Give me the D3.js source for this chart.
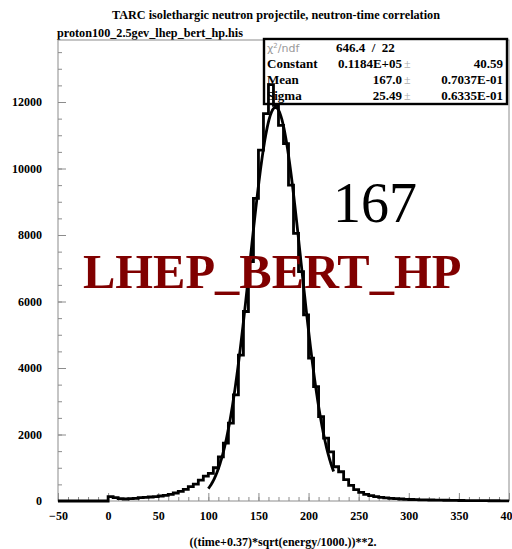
<!DOCTYPE html>
<html>
<head>
<meta charset="utf-8">
<script src="https://cdn.jsdelivr.net/npm/d3@7"></script>
<style>
  body { margin: 0; background: #fff; }
  svg { display: block; }
  text { font-family: "Liberation Serif", "Times New Roman", serif; }
  .lbl { font-weight: bold; font-size: 12px; }
  .axis path, .axis line { stroke: #8c8c8c; }
</style>
</head>
<body>
<div id="chart"></div>
<script>
// histogram: 5-unit bins from -50 to 400 (left edges)
var binStart = -50, binWidth = 5;
var counts = [
  0, 0, 0, 0, 0, 0, 0, 0, 0, 0,                 // -50 .. 0
  130, 100, 70, 60, 70, 80, 100, 110, 120, 130,   // 0 .. 50
  150, 170, 200, 240, 290, 350, 430, 510, 630, 750, // 50 .. 100
  830, 1000, 1330, 1740, 2340, 3190, 4390, 5700, 7200, 9100, // 100 .. 150
  10550, 11650, 12520, 11900, 11300, 10750, 9500, 8050, 6900, 5600, // 150 .. 200
  4300, 3440, 2540, 1890, 1480, 1030, 880, 640, 470, 340, // 200 .. 250
  260, 200, 160, 130, 110, 95, 80, 70, 60, 50,    // 250 .. 300
  45, 40, 35, 32, 30, 28, 25, 22, 20, 18,         // 300 .. 350
  15, 14, 12, 11, 10, 9, 8, 7, 6, 5               // 350 .. 400
];

// gaussian fit results (from the stats box)
var fitConstant = 11840, fitMean = 167.0, fitSigma = 25.49;
var fitRange = [100, 225];

var statLabels = ["Constant", "Mean", "Sigma"];
var statValues = ["0.1184E+05", "167.0", "25.49"];
var statErrors = ["40.59", "0.7037E-01", "0.6335E-01"];
var chi2 = "646.4", ndf = "22";

var xTicks = [-50, 0, 50, 100, 150, 200, 250, 300, 350, 400];
var yTicks = [0, 2000, 4000, 6000, 8000, 10000, 12000];

var W = 512, H = 549;
var svg = d3.select("#chart").append("svg")
    .attr("width", W).attr("height", H);

var x = d3.scaleLinear().domain([-50, 400]).range([58, 509]);
var y = d3.scaleLinear().domain([0, 13865]).range([501, 40]);

// title
svg.append("text")
    .attr("x", 276).attr("y", 19)
    .attr("text-anchor", "middle")
    .attr("class", "lbl").style("font-size", "12.2px")
    .text("TARC isolethargic neutron projectile, neutron-time correlation");

svg.append("text")
    .attr("x", 57).attr("y", 37)
    .attr("class", "lbl").style("font-size", "12.2px")
    .text("proton100_2.5gev_lhep_bert_hp.his");

// frame
svg.append("rect")
    .attr("x", x(-50)).attr("y", y.range()[1])
    .attr("width", x(400) - x(-50)).attr("height", y(0) - y.range()[1])
    .attr("fill", "none").attr("stroke", "#8c8c8c").attr("stroke-width", 1);

// y axis: major + minor ticks pointing inward
svg.append("g")
    .attr("class", "axis")
    .attr("transform", "translate(" + x(-50) + ",0)")
    .call(d3.axisLeft(y).tickValues(d3.range(0, 14000, 500)).tickSize(-4).tickFormat(""))
    .call(g => g.select(".domain").remove());
svg.append("g")
    .attr("class", "axis")
    .attr("transform", "translate(" + x(-50) + ",0)")
    .call(d3.axisLeft(y).tickValues(yTicks).tickSize(-8).tickPadding(16).tickFormat(d3.format("d")))
    .call(g => g.select(".domain").remove())
    .call(g => g.selectAll("text").attr("class", "lbl").style("font-size", "12px")
        .attr("fill", "#000").style("font-family", "Liberation Serif"));

// x axis
svg.append("g")
    .attr("class", "axis")
    .attr("transform", "translate(0," + y(0) + ")")
    .call(d3.axisBottom(x).tickValues(d3.range(-50, 401, 10)).tickSize(-4).tickFormat(""))
    .call(g => g.select(".domain").remove());
svg.append("g")
    .attr("class", "axis")
    .attr("transform", "translate(0," + y(0) + ")")
    .call(d3.axisBottom(x).tickValues(xTicks).tickSize(-8).tickPadding(10).tickFormat(d3.format("d")))
    .call(g => g.select(".domain").remove())
    .call(g => g.selectAll("text").attr("class", "lbl").style("font-size", "12px")
        .attr("fill", "#000").style("font-family", "Liberation Serif"));

svg.append("text")
    .attr("x", 283).attr("y", 546)
    .attr("text-anchor", "middle")
    .attr("class", "lbl").style("font-size", "12px")
    .text("((time+0.37)*sqrt(energy/1000.))**2.");

// stats box
var box = svg.append("g");
box.append("rect")
    .attr("x", 264).attr("y", 39).attr("width", 243).attr("height", 65)
    .attr("fill", "#fff").attr("stroke", "#000").attr("stroke-width", 2.4);
box.append("text")
    .attr("x", 267).attr("y", 52)
    .style("font-family", "DejaVu Sans").style("font-size", "11px").attr("fill", "#999")
    .html("&#967;<tspan dy='-4' font-size='7'>2</tspan><tspan dy='4'>/ndf</tspan>");
box.append("text")
    .attr("x", 336).attr("y", 52)
    .attr("class", "lbl").style("font-size", "13px").attr("xml:space", "preserve")
    .text(chi2 + "  /  " + ndf);
var rowY = [68, 84, 100];
statLabels.forEach(function(s, i) {
  box.append("text").attr("x", 267).attr("y", rowY[i])
      .attr("class", "lbl").style("font-size", "13px").text(s);
  box.append("text").attr("x", 402).attr("y", rowY[i]).attr("text-anchor", "end")
      .attr("class", "lbl").style("font-size", "13px").text(statValues[i]);
  box.append("text").attr("x", 404).attr("y", rowY[i])
      .style("font-size", "12px").attr("fill", "#aaa").text("\u00b1");
  box.append("text").attr("x", 503).attr("y", rowY[i]).attr("text-anchor", "end")
      .attr("class", "lbl").style("font-size", "13px").text(statErrors[i]);
});

// histogram as a step line
var pts = counts.map((c, i) => [binStart + i * binWidth, c]);
pts.push([binStart + counts.length * binWidth, counts[counts.length - 1]]);
svg.append("path")
    .datum(pts)
    .attr("fill", "none").attr("stroke", "#000").attr("stroke-width", 2.8)
    .attr("stroke-linejoin", "miter")
    .attr("d", d3.line().x(d => x(d[0])).y(d => y(d[1])).curve(d3.curveStepAfter));

// fitted gaussian
var fitPts = d3.range(fitRange[0], fitRange[1] + 0.01, 0.5).map(function(t) {
  return [t, fitConstant * Math.exp(-0.5 * Math.pow((t - fitMean) / fitSigma, 2))];
});
svg.append("path")
    .datum(fitPts)
    .attr("fill", "none").attr("stroke", "#000").attr("stroke-width", 2.8)
    .attr("d", d3.line().x(d => x(d[0])).y(d => y(d[1])));

// annotations
svg.append("text")
    .attr("x", 333).attr("y", 222)
    .style("font-size", "56px")
    .text("167");
svg.append("text")
    .attr("x", 83).attr("y", 288)
    .style("font-size", "48.5px").style("font-weight", "bold")
    .attr("fill", "#800000")
    .text("LHEP_BERT_HP");
</script>
</body>
</html>
